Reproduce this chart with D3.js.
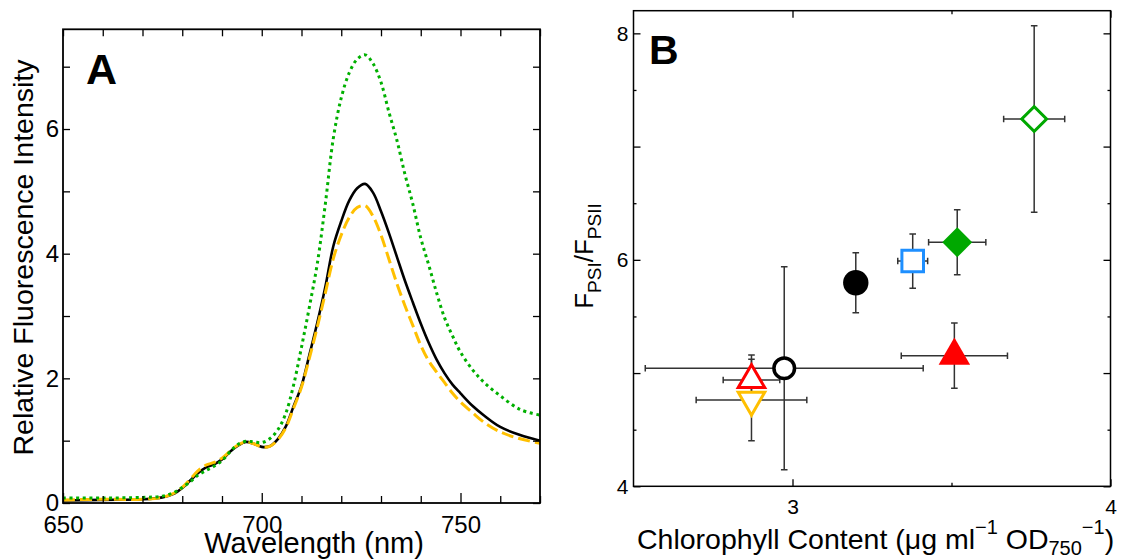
<!DOCTYPE html>
<html>
<head>
<meta charset="utf-8">
<script src="https://cdn.jsdelivr.net/npm/d3@7"></script>
<style>
  html, body { margin: 0; padding: 0; background: #fff; }
  svg { display: block; }
  text { font-family: "Liberation Sans", Arial, sans-serif; fill: #000; }
</style>
</head>
<body>
<svg id="chart" width="1122" height="559"></svg>
<script>
// ---------------- Panel A data ----------------
const wavelength = [650, 660, 670, 675, 678, 680, 682, 684, 686, 688, 690, 692, 694, 696, 698, 700, 702, 704, 706, 708, 710, 712, 714, 716, 718, 720, 722, 724, 726, 728, 730, 732, 734, 736, 738, 740, 742, 744, 746, 748, 750, 753, 756, 760, 765, 770];
const intensitySolid = [0.04, 0.05, 0.06, 0.09, 0.15, 0.24, 0.36, 0.48, 0.57, 0.62, 0.70, 0.82, 0.92, 0.98, 0.95, 0.90, 0.91, 1.02, 1.22, 1.55, 1.88, 2.38, 2.9, 3.47, 4.12, 4.52, 4.85, 5.05, 5.12, 4.98, 4.68, 4.33, 3.95, 3.57, 3.22, 2.88, 2.57, 2.3, 2.08, 1.9, 1.76, 1.56, 1.40, 1.22, 1.09, 1.0];
const intensityDashed = [0.05, 0.06, 0.06, 0.09, 0.16, 0.25, 0.38, 0.52, 0.61, 0.65, 0.72, 0.83, 0.93, 0.98, 0.95, 0.90, 0.91, 1.01, 1.2, 1.52, 1.86, 2.33, 2.83, 3.37, 3.92, 4.3, 4.58, 4.74, 4.77, 4.6, 4.3, 3.91, 3.52, 3.17, 2.85, 2.53, 2.28, 2.1, 1.93, 1.76, 1.62, 1.45, 1.29, 1.14, 1.03, 0.96];
const intensityDotted = [0.08, 0.08, 0.09, 0.11, 0.17, 0.25, 0.34, 0.45, 0.52, 0.59, 0.68, 0.82, 0.94, 0.99, 0.98, 0.97, 1.03, 1.17, 1.43, 1.89, 2.5, 3.15, 3.85, 4.8, 5.85, 6.5, 6.9, 7.12, 7.19, 7.05, 6.75, 6.27, 5.82, 5.28, 4.8, 4.25, 3.82, 3.37, 2.97, 2.68, 2.42, 2.14, 1.93, 1.72, 1.5, 1.41];
const xTicksA = [650, 660, 670, 680, 690, 700, 710, 720, 730, 740, 750, 760, 770];
const xLabelsA = [650, 700, 750];
const yTicksA = [0, 1, 2, 3, 4, 5, 6, 7];
const yLabelsA = [0, 2, 4, 6];

// ---------------- Panel B data ----------------
const chlContent    = [2.974, 3.199, 3.378, 3.518, 3.760, 3.509, 2.871, 2.871];
const chlContentErr = [0.437, 0.030, 0.047, 0.090, 0.096, 0.167, 0.089, 0.174];
const fRatio        = [5.042, 5.798, 5.989, 6.155, 7.244, 5.153, 4.939, 4.762];
const fRatioErr     = [0.896, 0.265, 0.240, 0.287, 0.823, 0.288, 0.220, 0.360];
const markerShape   = ["circle", "circle", "square", "diamond", "diamond", "triangle", "triangle", "triangleDown"];
const markerColor   = ["#000000", "#000000", "#1e8fff", "#00a800", "#00a800", "#ff0000", "#ff0000", "#ffbf00"];
const markerFilled  = [false, true, false, true, false, true, false, false];
const xTicksB = [3, 3.5, 4];
const xLabelsB = [3, 4];
const yTicksB = [4, 4.5, 5, 5.5, 6, 6.5, 7, 7.5, 8];
const yLabelsB = [4, 6, 8];

const svg = d3.select("#chart");
svg.append("rect").attr("width", 1122).attr("height", 559).attr("fill", "#fff");

// ================= Panel A =================
const A = { left: 63, right: 540, top: 29.3, bottom: 503 };
const xA = d3.scaleLinear().domain([650, 770]).range([A.left, A.right]);
const yA = d3.scaleLinear().domain([0, 7.6]).range([A.bottom, A.top]);
const gA = svg.append("g");

const lineA = (vals) => d3.line()
  .x((d, i) => xA(wavelength[i]))
  .y((d) => yA(d))
  .curve(d3.curveCatmullRom.alpha(0.5))(vals);

gA.append("path").attr("d", lineA(intensitySolid))
  .attr("fill", "none").attr("stroke", "#000").attr("stroke-width", 2.6);
gA.append("path").attr("d", lineA(intensityDashed))
  .attr("fill", "none").attr("stroke", "#ffc000").attr("stroke-width", 3)
  .attr("stroke-dasharray", "12,5");
gA.append("path").attr("d", lineA(intensityDotted))
  .attr("fill", "none").attr("stroke", "#00b000").attr("stroke-width", 3)
  .attr("stroke-dasharray", "3,3.6");

// axes A
function styleAxis(g, size) {
  g.select(".domain").remove();
  g.selectAll(".tick line").attr("stroke", "#000").attr("stroke-width", 1.3);
  g.selectAll(".tick text").attr("font-size", size).attr("font-family", "Liberation Sans, Arial, sans-serif").attr("fill", "#000");
}
const axBA = gA.append("g").attr("transform", `translate(0,${A.bottom})`)
  .call(d3.axisBottom(xA).tickValues(xTicksA).tickSize(-7).tickPadding(13)
    .tickFormat(d => xLabelsA.includes(d) ? d : ""));
styleAxis(axBA, 24);
axBA.selectAll(".tick line").attr("y2", d => xLabelsA.includes(d) ? -10 : -7);
const axTA = gA.append("g").attr("transform", `translate(0,${A.top})`)
  .call(d3.axisTop(xA).tickValues(xTicksA).tickSize(-7).tickFormat(""));
styleAxis(axTA, 24);
const axLA = gA.append("g").attr("transform", `translate(${A.left},0)`)
  .call(d3.axisLeft(yA).tickValues(yTicksA).tickSize(-7).tickPadding(4)
    .tickFormat(d => yLabelsA.includes(d) ? d : ""));
styleAxis(axLA, 24);
const axRA = gA.append("g").attr("transform", `translate(${A.right},0)`)
  .call(d3.axisRight(yA).tickValues(yTicksA).tickSize(-7).tickFormat(""));
styleAxis(axRA, 24);

gA.append("rect").attr("x", A.left).attr("y", A.top)
  .attr("width", A.right - A.left).attr("height", A.bottom - A.top)
  .attr("fill", "none").attr("stroke", "#000").attr("stroke-width", 1.8);

gA.append("text").attr("x", 86).attr("y", 84.3)
  .attr("font-size", 43).attr("font-weight", "bold").text("A");
gA.append("text").attr("x", 314).attr("y", 553).attr("text-anchor", "middle")
  .attr("font-size", 29).text("Wavelength (nm)");
gA.append("text").attr("transform", "translate(33,257.5) rotate(-90)")
  .attr("text-anchor", "middle").attr("font-size", 28.5)
  .text("Relative Fluorescence Intensity");

// ================= Panel B =================
const B = { left: 633.5, right: 1110.5, top: 10.7, bottom: 486.3 };
const xB = d3.scaleLinear().domain([2.5, 4]).range([B.left, B.right]);
const yB = d3.scaleLinear().domain([4, 8.2]).range([B.bottom, B.top]);
const gB = svg.append("g");

const axBB = gB.append("g").attr("transform", `translate(0,${B.bottom})`)
  .call(d3.axisBottom(xB).tickValues(xTicksB).tickSize(-7).tickPadding(12.5)
    .tickFormat(d => xLabelsB.includes(d) ? d : ""));
styleAxis(axBB, 21);
axBB.selectAll(".tick line").attr("y2", d => Number.isInteger(d) ? -7 : -3.5);
const axTB = gB.append("g").attr("transform", `translate(0,${B.top})`)
  .call(d3.axisTop(xB).tickValues(xTicksB).tickSize(-7).tickFormat(""));
styleAxis(axTB, 21);
axTB.selectAll(".tick line").attr("y2", d => Number.isInteger(d) ? 7 : 3.5);
const axLB = gB.append("g").attr("transform", `translate(${B.left},0)`)
  .call(d3.axisLeft(yB).tickValues(yTicksB).tickSize(-7).tickPadding(5)
    .tickFormat(d => yLabelsB.includes(d) ? d : ""));
styleAxis(axLB, 21);
axLB.selectAll(".tick line").attr("x2", d => Number.isInteger(d) ? 7 : 3);
const axRB = gB.append("g").attr("transform", `translate(${B.right},0)`)
  .call(d3.axisRight(yB).tickValues(yTicksB).tickSize(-7).tickFormat(""));
styleAxis(axRB, 21);
axRB.selectAll(".tick line").attr("x2", d => Number.isInteger(d) ? -7 : -3);

gB.append("rect").attr("x", B.left).attr("y", B.top)
  .attr("width", B.right - B.left).attr("height", B.bottom - B.top)
  .attr("fill", "none").attr("stroke", "#000").attr("stroke-width", 1.5);

// error bars
const idx = d3.range(chlContent.length);
const cap = 3.3;
const eb = gB.append("g").attr("stroke", "#333").attr("stroke-width", 1.5).attr("fill", "none");
idx.forEach(i => {
  const cx = xB(chlContent[i]), cy = yB(fRatio[i]);
  const x0 = xB(chlContent[i] - chlContentErr[i]), x1 = xB(chlContent[i] + chlContentErr[i]);
  const y0 = yB(fRatio[i] - fRatioErr[i]), y1 = yB(fRatio[i] + fRatioErr[i]);
  eb.append("path").attr("d",
    `M${x0},${cy}H${x1}M${x0},${cy - cap}V${cy + cap}M${x1},${cy - cap}V${cy + cap}` +
    `M${cx},${y0}V${y1}M${cx - cap},${y0}H${cx + cap}M${cx - cap},${y1}H${cx + cap}`);
});

// markers
const symbolFor = {
  circle: { type: d3.symbolCircle, rot: 0 },
  square: { type: d3.symbolSquare, rot: 0 },
  diamond: { type: d3.symbolSquare, rot: 45 },
  triangle: { type: d3.symbolTriangle, rot: 0 },
  triangleDown: { type: d3.symbolTriangle, rot: 180 }
};
function markerSize(i) {
  const s = markerShape[i], f = markerFilled[i];
  if (s === "circle") return f ? Math.PI * 12.7 * 12.7 : Math.PI * 10.3 * 10.3;
  if (s === "square") return 21.6 * 21.6;
  if (s === "diamond") return f ? 21.2 * 21.2 : 17.6 * 17.6;
  if (s === "triangle" || s === "triangleDown") return f ? 0.433 * 31.5 * 31.5 : 0.433 * 26.5 * 26.5;
  return 300;
}
gB.append("g").selectAll("path").data(idx).join("path")
  .attr("d", i => d3.symbol(symbolFor[markerShape[i]].type, markerSize(i))())
  .attr("transform", i => `translate(${xB(chlContent[i])},${yB(fRatio[i])}) rotate(${symbolFor[markerShape[i]].rot})`)
  .attr("fill", i => markerFilled[i] ? markerColor[i] : "#fff")
  .attr("stroke", i => markerFilled[i] ? "none" : markerColor[i])
  .attr("stroke-width", i => markerShape[i] === "circle" ? 3.5 : 3);

gB.append("text").attr("x", 649).attr("y", 64)
  .attr("font-size", 41).attr("font-weight", "bold").text("B");

// x title B
const xt = gB.append("text").attr("x", 637).attr("y", 549).attr("font-size", 28.5);
xt.append("tspan").text("Chlorophyll Content (μg ml");
xt.append("tspan").attr("font-size", 20).attr("dy", -15).text("−1");
xt.append("tspan").attr("dy", 15).text(" OD");
xt.append("tspan").attr("font-size", 20).attr("dy", 6).text("750");
xt.append("tspan").attr("font-size", 20).attr("dy", -21).text("−1");
xt.append("tspan").attr("dy", 15).text(")");

// y title B
const yt = gB.append("text").attr("transform", "translate(593,256) rotate(-90)")
  .attr("text-anchor", "middle").attr("font-size", 26);
yt.append("tspan").text("F");
yt.append("tspan").attr("font-size", 19).attr("dy", 8).text("PSI");
yt.append("tspan").attr("dy", -8).text("/F");
yt.append("tspan").attr("font-size", 19).attr("dy", 8).text("PSII");
</script>
</body>
</html>
